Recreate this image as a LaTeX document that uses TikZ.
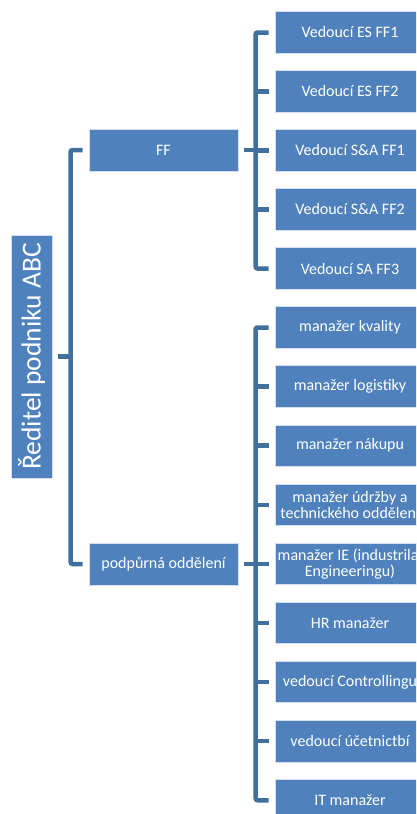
\documentclass[tikz,border=0pt]{standalone}
\usepackage{fontspec}
\setmainfont{Carlito}
\definecolor{boxblue}{HTML}{4F81BD}
\definecolor{linkblue}{HTML}{41709F}
\begin{document}
\begin{tikzpicture}[x=1pt,y=-1pt,
  box/.style={fill=boxblue,draw=white!75!boxblue,line width=0.8pt,text=white,
    inner sep=0pt,align=center,font=\fontsize{16}{15.5}\selectfont},
  midbox/.style={box,minimum width=149pt,minimum height=42pt},
  leaf/.style={box,minimum width=150pt,minimum height=41.5pt},
  conn/.style={draw=linkblue,line width=4.5pt,rounded corners=2pt}]
\useasboundingbox (0,0) rectangle (416,814);
\clip (0,0) rectangle (416,814);

% top level
\node[box,rotate=90,minimum width=243pt,minimum height=41pt,
  font=\fontsize{27.5}{30}\selectfont] (root) at (31.5,356.5) {Ředitel podniku ABC};

% second level
\node[midbox] (ff)  at (163.5,150) {FF};
\node[midbox] (pod) at (163.5,564) {podpůrná oddělení};

% FF branch
\node[leaf] (a1) at (350,32.5)  {Vedoucí ES FF1};
\node[leaf] (a2) at (350,91.5)  {Vedoucí ES FF2};
\node[leaf] (a3) at (350,150.5) {Vedoucí S\&A FF1};
\node[leaf] (a4) at (350,209.5) {Vedoucí S\&A FF2};
\node[leaf] (a5) at (350,268.5) {Vedoucí SA FF3};

% support departments
\node[leaf] (b1) at (350,327.5) {manažer kvality};
\node[leaf] (b2) at (350,386.6) {manažer logistiky};
\node[leaf] (b3) at (350,445.7) {manažer nákupu};
\node[leaf] (b4) at (350,504.8) {manažer údržby a\\technického oddělení};
\node[leaf] (b5) at (350,564)   {manažer IE (industrilal\\Engineeringu)};
\node[leaf] (b6) at (350,623.0) {HR manažer};
\node[leaf] (b7) at (350,682.1) {vedoucí Controllingu};
\node[leaf] (b8) at (350,741.2) {vedoucí účetnictbí};
\node[leaf] (b9) at (350,800.3) {IT manažer};

% connectors: root
\draw[conn] ([xshift=6pt]root.south) -- ++(15,0);
\draw[conn] ([xshift=-6pt]ff.west) -- ++(-12,0) |- ([xshift=-6pt]pod.west);

% connectors: FF
\draw[conn] ([xshift=6pt]ff.east) -- ++(14,0);
\draw[conn] ([xshift=-6pt]a1.west) -- ++(-13,0) |- ([xshift=-6pt]a5.west);
\foreach \n in {a2,a3,a4}
  \draw[conn] ([xshift=-6pt]\n.west) -- ++(-15,0);

% connectors: support departments
\draw[conn] ([xshift=6pt]pod.east) -- ++(14,0);
\draw[conn] ([xshift=-6pt]b1.west) -- ++(-13,0) |- ([xshift=-6pt]b9.west);
\foreach \n in {b2,b3,b4,b5,b6,b7,b8}
  \draw[conn] ([xshift=-6pt]\n.west) -- ++(-15,0);
\end{tikzpicture}
\end{document}
